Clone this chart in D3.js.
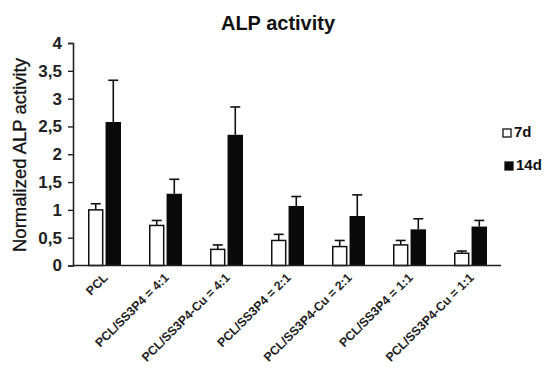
<!DOCTYPE html>
<html>
<head>
<meta charset="utf-8">
<script src="https://cdn.jsdelivr.net/npm/d3@7/dist/d3.min.js"></script>
<style>
  html, body { margin: 0; padding: 0; background: #fff; }
  svg { display: block; font-family: "Liberation Sans", Arial, Helvetica, sans-serif; }
</style>
</head>
<body>
<svg id="chart" width="547" height="370"></svg>
<script>
const categories = ["PCL", "PCL/SS3P4 = 4:1", "PCL/SS3P4-Cu = 4:1", "PCL/SS3P4 = 2:1",
                    "PCL/SS3P4-Cu = 2:1", "PCL/SS3P4 = 1:1", "PCL/SS3P4-Cu = 1:1"];
const seriesNames = ["7d", "14d"];
const values7d  = [1.00, 0.72, 0.29, 0.45, 0.34, 0.37, 0.22];
const err7d     = [0.11, 0.09, 0.08, 0.11, 0.11, 0.08, 0.04];
const values14d = [2.58, 1.29, 2.35, 1.07, 0.89, 0.65, 0.70];
const err14d    = [0.75, 0.26, 0.50, 0.17, 0.38, 0.19, 0.11];
const yTicks = [0, 0.5, 1, 1.5, 2, 2.5, 3, 3.5, 4];

const svg = d3.select("#chart");
const fmt = d => String(d).replace(".", ",");

const x0 = d3.scaleBand().domain(categories).range([74, 501]).paddingInner(0).paddingOuter(0);
const bw = x0.bandwidth();
const x1 = d3.scaleBand().domain(seriesNames).range([bw / 2 - 16.5, bw / 2 + 16.5]).paddingInner(0.12);
const y = d3.scaleLinear().domain([0, 4]).range([265.5, 43]);

const data = categories.map((c, i) => ({
  cat: c,
  bars: [
    { s: "7d", v: values7d[i], e: err7d[i] },
    { s: "14d", v: values14d[i], e: err14d[i] }
  ]
}));

// Title
svg.append("text")
  .attr("x", 278).attr("y", 30)
  .attr("text-anchor", "middle")
  .attr("font-size", 20).attr("font-weight", "bold")
  .attr("fill", "#111")
  .text("ALP activity");

// Y axis label
svg.append("text")
  .attr("transform", "translate(26,155) rotate(-90)")
  .attr("text-anchor", "middle")
  .attr("font-size", 18.5)
  .attr("fill", "#111")
  .attr("stroke", "#111").attr("stroke-width", 0.3)
  .text("Normalized ALP activity");

// Groups
const g = svg.append("g");
const groups = g.selectAll("g.grp").data(data).join("g")
  .attr("class", "grp")
  .attr("transform", d => `translate(${x0(d.cat)},0)`);

// Error bars (upward only)
groups.selectAll("line.err").data(d => d.bars).join("line")
  .attr("class", "err")
  .attr("x1", b => x1(b.s) + x1.bandwidth() / 2)
  .attr("x2", b => x1(b.s) + x1.bandwidth() / 2)
  .attr("y1", b => y(b.v))
  .attr("y2", b => y(b.v + b.e))
  .attr("stroke", "#111").attr("stroke-width", 1.6);
groups.selectAll("line.cap").data(d => d.bars).join("line")
  .attr("class", "cap")
  .attr("x1", b => x1(b.s) + x1.bandwidth() / 2 - 5)
  .attr("x2", b => x1(b.s) + x1.bandwidth() / 2 + 5)
  .attr("y1", b => y(b.v + b.e))
  .attr("y2", b => y(b.v + b.e))
  .attr("stroke", "#111").attr("stroke-width", 1.6);

// Bars
groups.selectAll("rect").data(d => d.bars).join("rect")
  .attr("x", b => x1(b.s) + (b.s === "7d" ? 0.75 : 0))
  .attr("width", b => x1.bandwidth() - (b.s === "7d" ? 1.5 : 0))
  .attr("y", b => y(b.v))
  .attr("height", b => y(0) - y(b.v))
  .attr("fill", b => b.s === "7d" ? "#fff" : "#0a0a0a")
  .attr("stroke", "#111")
  .attr("stroke-width", b => b.s === "7d" ? 1.5 : 0);

// Y axis
const yAxis = d3.axisLeft(y).tickValues(yTicks).tickFormat(fmt).tickSize(5).tickPadding(6);
const ya = svg.append("g").attr("transform", "translate(73,0)").call(yAxis);
ya.select(".domain").attr("stroke", "#222").attr("stroke-width", 1.6);
ya.selectAll(".tick line").attr("stroke", "#222").attr("stroke-width", 1.4);
ya.selectAll(".tick text")
  .attr("font-size", 17).attr("font-weight", "bold")
  .attr("fill", "#222")
  .attr("font-family", "'Liberation Sans', Arial, sans-serif");

// X axis
const xAxis = d3.axisBottom(x0).tickSize(0).tickPadding(0);
const xa = svg.append("g").attr("transform", `translate(0,${y(0)})`).call(xAxis);
xa.select(".domain").attr("stroke", "#222").attr("stroke-width", 1.6)
  .attr("d", `M73,0H501`);
xa.selectAll(".tick text")
  .attr("font-size", 12.3).attr("font-weight", "bold")
  .attr("fill", "#222")
  .attr("font-family", "'Liberation Sans', Arial, sans-serif")
  .attr("text-anchor", "end")
  .attr("dy", "0")
  .attr("y", 0)
  .attr("transform", "translate(4,13) rotate(-45)");

// Legend
const legend = svg.append("g");
const legY = [137, 170];
const legX = [503, 505];
seriesNames.forEach((s, i) => {
  legend.append("rect")
    .attr("x", legX[i]).attr("y", legY[i] - 8)
    .attr("width", 8).attr("height", 8)
    .attr("fill", s === "7d" ? "#fff" : "#0a0a0a")
    .attr("stroke", "#111").attr("stroke-width", 1.3);
  legend.append("text")
    .attr("x", legX[i] + 11).attr("y", legY[i])
    .attr("font-size", 15).attr("font-weight", "bold")
    .attr("fill", "#111")
    .text(s);
});
</script>
</body>
</html>
